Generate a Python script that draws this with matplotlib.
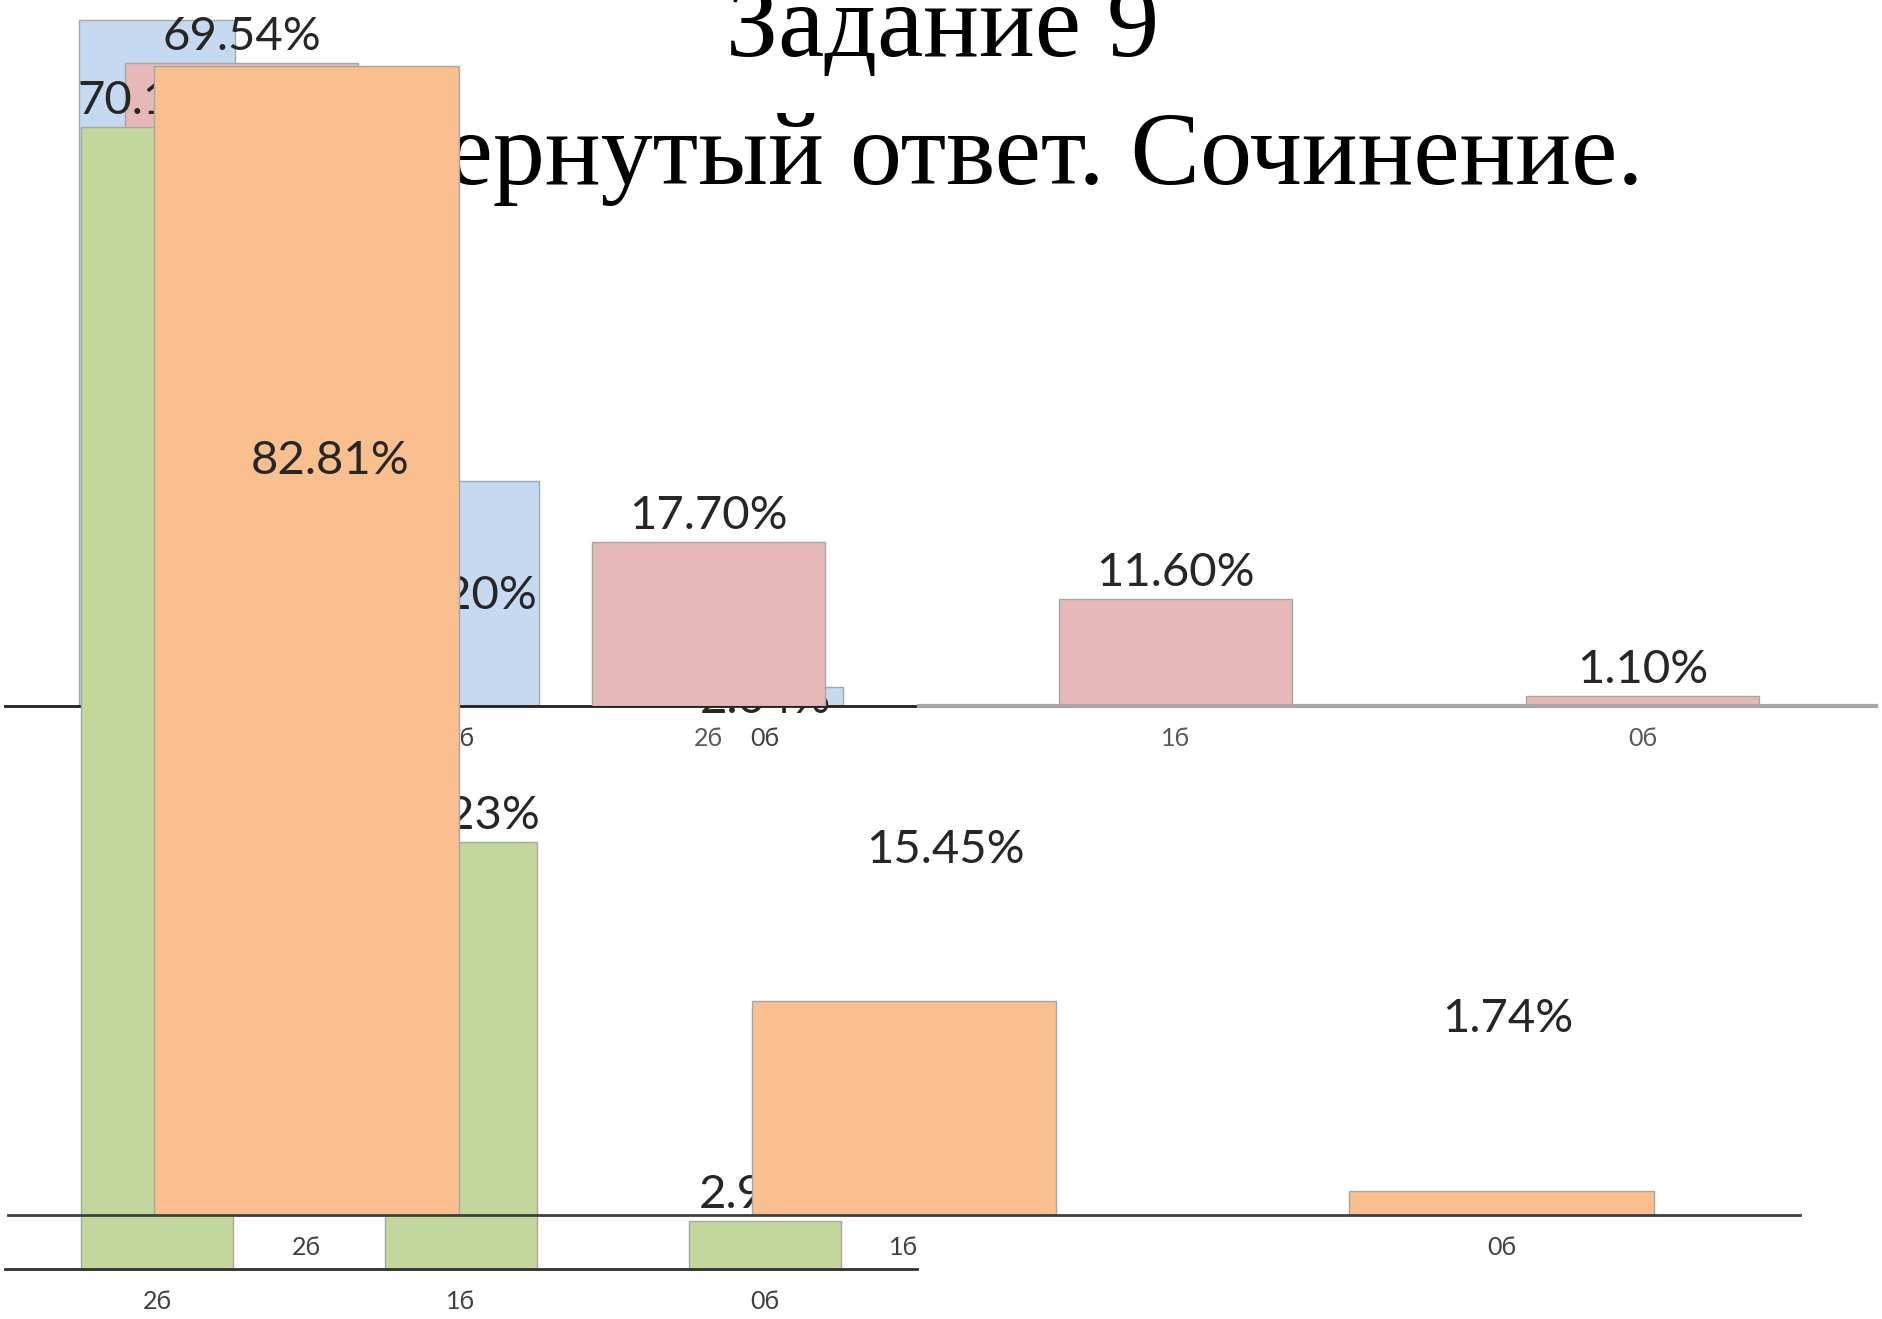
import matplotlib
matplotlib.use('Agg')
import matplotlib.pyplot as plt

### data (four overlapping bar charts)
title_lines = ['Задание 9', 'Развернутый ответ. Сочинение.']

blue_cats = ['2б', '1б', '0б']
blue_vals = [73.76, 24.20, 2.04]

red_cats = ['3б', '2б', '1б', '0б']
red_vals = [69.54, 17.70, 11.60, 1.10]

green_cats = ['2б', '1б', '0б']
green_vals = [70.15, 26.23, 2.92]

orange_cats = ['2б', '1б', '0б']
orange_vals = [82.81, 15.45, 1.74]

# labels that sit away from their bars on the slide (data units of own axes)
# first blue label falls above the slide, so it is not drawn
blue_lbl_y = [None, 11.8, 0.65]
blue_lbl_dx = [0.0, -0.01, 0.0]
orange_lbl_y = [54.3, 26.3, 14.1]
orange_lbl_dx = [0.04, 0.07, 0.01]

W, H = 1883, 1319
LBL_FONT = ['Lato', 'DejaVu Sans']

plt.rcParams['font.family'] = LBL_FONT

fig = plt.figure(figsize=(W / 100, H / 100), dpi=100)


def make_axes(left_px, right_px, base_px, px_per_unit, cats, z, spine_color, spine_lw,
              tick_color='#404040'):
    ax = fig.add_axes([left_px / W, 1 - base_px / H, (right_px - left_px) / W, base_px / H], zorder=z)
    ax.set_xlim(-0.5, len(cats) - 0.5)
    ax.set_ylim(0, base_px / px_per_unit)
    ax.patch.set_visible(False)
    for s in ['top', 'left', 'right']:
        ax.spines[s].set_visible(False)
    ax.spines['bottom'].set_color(spine_color)
    ax.spines['bottom'].set_linewidth(spine_lw)
    ax.set_yticks([])
    ax.set_xticks(range(len(cats)))
    ax.set_xticklabels(cats)
    ax.tick_params(axis='x', length=0, pad=15, labelsize=18, labelcolor=tick_color)
    return ax


def bars(ax, vals, color, width):
    ax.bar(range(len(vals)), vals, width=width, color=color, edgecolor='#a6a6a6', linewidth=1.0)


def top_labels(ax, vals):
    for i, v in enumerate(vals):
        ax.annotate(f'{v:.2f}%', (i, v), xytext=(0, 26), textcoords='offset pixels',
                    ha='center', va='center', fontsize=34, color='#262626')


def free_labels(ax, vals, ys, dxs):
    for i, (v, y, dx) in enumerate(zip(vals, ys, dxs)):
        if y is None:
            continue
        ax.text(i + dx, y, f'{v:.2f}%', ha='center', va='center', fontsize=34, color='#262626')


# title sits behind everything
fig.text(943 / W, 1 - 56 / H, title_lines[0], ha='center', va='baseline',
         fontsize=75, family='Liberation Serif', zorder=-1)
fig.text(948 / W, 1 - 184 / H, title_lines[1], ha='center', va='baseline',
         fontsize=75, family='Liberation Serif', zorder=-1)

# blue chart (bottom layer)
ax_b = make_axes(5, 917, 706, 9.3, blue_cats, 1, '#202020', 2.0)
bars(ax_b, blue_vals, '#c5d9f1', 0.51)
free_labels(ax_b, blue_vals, blue_lbl_y, blue_lbl_dx)

# red chart
ax_r = make_axes(8, 1876, 706, 9.24, red_cats, 2, '#a6a6a6', 3.0, tick_color='#595959')
ax_r.spines['bottom'].set_bounds(1.45, 3.5)
bars(ax_r, red_vals, '#e6b9b8', 0.5)
top_labels(ax_r, red_vals)

# green chart
ax_g = make_axes(5, 917, 1269, 16.28, green_cats, 3, '#303030', 2.0)
bars(ax_g, green_vals, '#c3d69b', 0.5)
top_labels(ax_g, green_vals)

# orange chart (top layer)
ax_o = make_axes(8, 1800, 1215, 13.88, orange_cats, 4, '#404040', 2.0)
bars(ax_o, orange_vals, '#f9bf8f', 0.51)
free_labels(ax_o, orange_vals, orange_lbl_y, orange_lbl_dx)

fig.savefig('out.png', dpi=100)
